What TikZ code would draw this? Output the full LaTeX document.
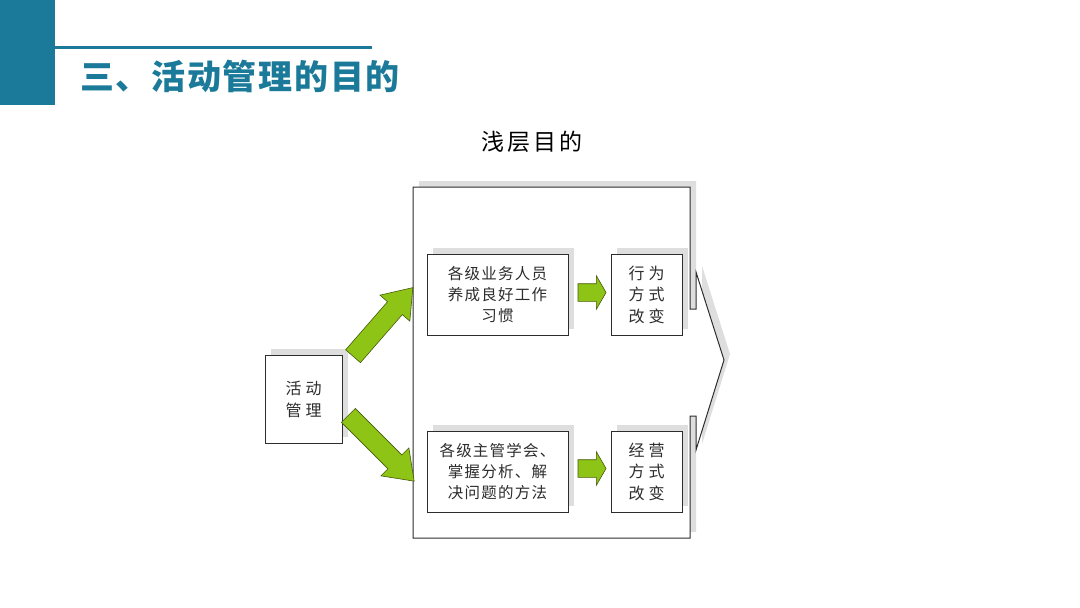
\documentclass[tikz,border=0pt]{standalone}
\usepackage{fontspec}
\newfontfamily\cjk{Noto Sans CJK SC}
\usepackage{tikz}
\usetikzlibrary{shapes.arrows,shadows,positioning}
\definecolor{headteal}{RGB}{27,122,153}
\definecolor{leaf}{RGB}{141,196,22}
\definecolor{leafline}{RGB}{70,90,10}
\definecolor{shadowgray}{RGB}{222,222,222}
\definecolor{ink}{RGB}{45,45,45}

\begin{document}
\begin{tikzpicture}[x=1pt,y=-1pt,
  box/.style={rectangle, draw=ink, line width=1pt, fill=white, inner sep=0pt,
    align=center, text=ink, minimum width=141pt, minimum height=81pt,
    font={\cjk\fontsize{15.5}{21}\selectfont\addfontfeatures{LetterSpace=8}},
    drop shadow={shadow xshift=6pt, shadow yshift=6pt, fill=shadowgray, opacity=1}},
  smallbox/.style={box, minimum width=71pt,
    font={\cjk\fontsize{16}{21.5}\selectfont\addfontfeatures{LetterSpace=25}}},
  garrow/.style={single arrow, draw=leafline, fill=leaf, line width=0.6pt,
    inner sep=0pt, text height=9.5pt, text depth=9.5pt,
    single arrow head extend=10pt, single arrow tip angle=72},
  sgarrow/.style={garrow, text height=8.5pt, text depth=8.5pt,
    single arrow head extend=8pt, single arrow tip angle=120, minimum height=28pt}]

\useasboundingbox (0,0) rectangle (1080,608);

%header
\fill[headteal] (0,0) rectangle (55,105);
\draw[headteal, line width=3pt] (55,47) -- (372,47);
\node[anchor=west, inner sep=0pt, text=headteal,
  font={\cjk\bfseries\fontsize{34}{40}\selectfont\addfontfeatures{LetterSpace=5}}] (title) at (80,76) {三、活动管理的目的};

%subtitle
\node[font={\cjk\fontsize{23}{28}\selectfont\addfontfeatures{LetterSpace=14}}] (aim) at (532,142) {浅层目的};

%frame with chevron
\fill[shadowgray, shift={(6,-6)}] (413,187) -- (690,187) -- (690,309) -- (696,309) -- (696,272)
  -- (724,360) -- (696,450) -- (696,416) -- (690,416) -- (690,538) -- (413,538) -- cycle;
\draw[ink, line width=1pt, fill=white] (413,187) -- (690,187) -- (690,309) -- (696,309) -- (696,272)
  -- (724,360) -- (696,450) -- (696,416) -- (690,416) -- (690,538) -- (413,538) -- cycle;

%activity management
\node[box, minimum width=77pt, minimum height=88pt,
  font={\cjk\fontsize{16}{22}\selectfont\addfontfeatures{LetterSpace=25}}] (act) at (303.5,399) {活动\\管理};

%upper row
\node[box] (habit) at (497.5,294.5) {各级业务人员\\养成良好工作\\习惯};
\node[smallbox, right=42pt of habit] (behav) {行为\\方式\\改变};

%lower row
\node[box, below=95pt of habit] (skill) {各级主管学会、\\掌握分析、解\\决问题的方法};
\node[smallbox, right=42pt of skill] (oper) {经营\\方式\\改变};

%big arrows
\coordinate (upTail) at (348,362);
\coordinate (upTip) at (409,292);
\coordinate (downTail) at (343,410);
\coordinate (downTip) at (410,477);
\path (upTail) -- (upTip) node[garrow, midway, sloped, minimum height=91pt] (upArrow) {};
\path (downTail) -- (downTip) node[garrow, midway, sloped, minimum height=93pt] (downArrow) {};

%small arrows
\path (habit.east) -- (behav.west) node[sgarrow, midway, yshift=2pt] (habitArrow) {};
\path (skill.east) -- (oper.west) node[sgarrow, midway, yshift=3pt] (skillArrow) {};

\end{tikzpicture}
\end{document}
